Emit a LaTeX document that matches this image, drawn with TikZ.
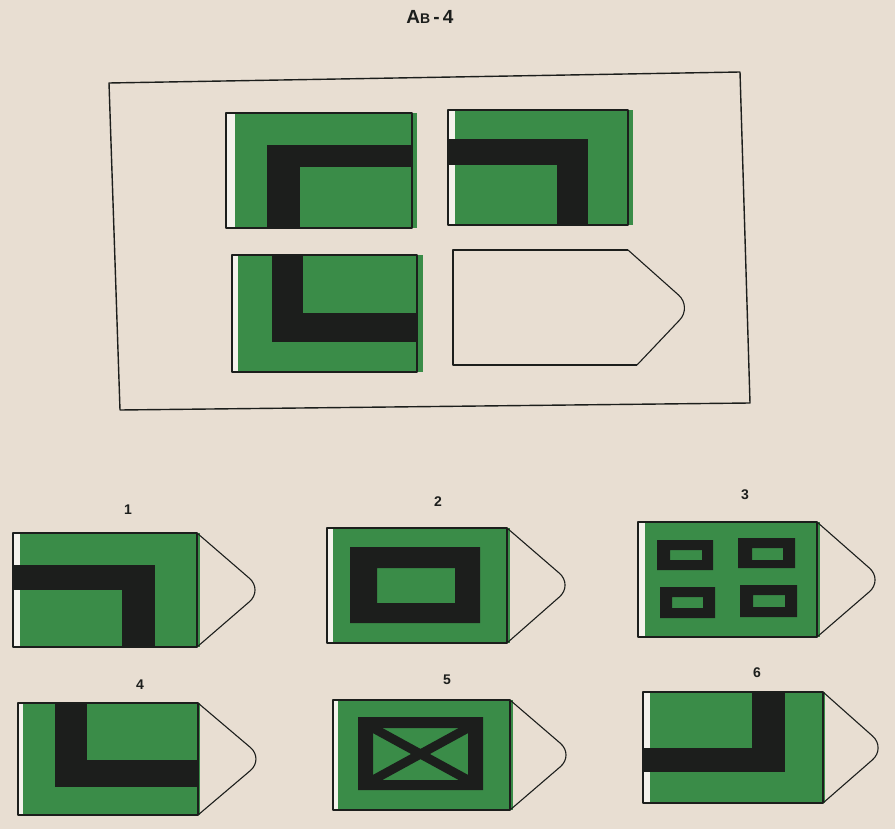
\documentclass[tikz,border=0pt]{standalone}
\usepackage{fontspec}
\setmainfont{Liberation Sans}
\definecolor{paper}{RGB}{232,222,210}
\definecolor{tgreen}{RGB}{58,140,72}
\definecolor{tblack}{RGB}{28,30,28}
\definecolor{strip}{RGB}{244,242,236}
\newcommand\mytile[6]{%
  \fill[strip] (#1,#2) rectangle (#3,#4);
  \fill[tgreen] (#5,#2) rectangle (#6,#4);}
\begin{document}
\begin{tikzpicture}[x=1pt,y=-1pt,
  outl/.style={draw=tblack,line width=1.3pt,line join=round},
  blk/.style={fill=tblack},
  tipline/.style={draw=tblack,line width=1.1pt,rounded corners=18pt},
  lbl/.style={font=\fontsize{14}{16}\selectfont\bfseries,text=tblack}]
\fill[paper] (0,0) rectangle (895,829);
\useasboundingbox (0,0) rectangle (895,829);

% title
\node[font=\fontsize{19}{22}\selectfont\bfseries,text=tblack] (title) at (430,17) {A{\fontsize{14}{16}\selectfont B}\,-\,4};

% frame
\draw[outl,line width=1.4pt] (109,83) -- (740,72) -- (750,403) -- (120,410) -- cycle;

% top-left tile
\mytile{226}{113}{412}{228}{235}{417}
\fill[blk] (267,145) rectangle (300,228);
\fill[blk] (267,145) rectangle (412,167);
\draw[outl] (226,113) rectangle (412,228);

% top-right tile
\mytile{448}{110}{628}{225}{455}{633}
\fill[blk] (448,139) rectangle (588,165);
\fill[blk] (557,139) rectangle (588,225);
\draw[outl] (448,110) rectangle (628,225);

% bottom-left tile
\mytile{232}{255}{417}{372}{238}{423}
\fill[blk] (272,255) rectangle (303,342);
\fill[blk] (272,313) rectangle (417,342);
\draw[outl] (232,255) rectangle (417,372);

% blank tile
\draw[outl] (628,250) -- (453,250) -- (453,365) -- (637,365);
\draw[tipline] (628,250) -- (692,307) -- (637,365);

% option 1
\node[lbl] (l1) at (128,510) {1};
\mytile{13}{533}{197}{647}{20}{200}
\fill[blk] (13,565) rectangle (155,590);
\fill[blk] (122,565) rectangle (155,647);
\draw[outl] (13,533) rectangle (197,647);
\draw[tipline] (197,533) -- (263,590) -- (197,647);

% option 2
\node[lbl] (l2) at (438,502) {2};
\mytile{327}{528}{507}{643}{333}{510}
\fill[blk,even odd rule] (350,547) rectangle (480,623) (377,568) rectangle (455,603);
\draw[outl] (327,528) rectangle (507,643);
\draw[tipline] (507,528) -- (573,585) -- (507,643);

% option 3
\node[lbl] (l3) at (745,495) {3};
\mytile{638}{522}{817}{637}{645}{820}
\fill[blk,even odd rule] (657,540) rectangle (713,570) (670,550) rectangle (702,560);
\fill[blk,even odd rule] (738,538) rectangle (795,568) (752,548) rectangle (783,560);
\fill[blk,even odd rule] (660,587) rectangle (715,618) (672,597) rectangle (703,608);
\fill[blk,even odd rule] (740,585) rectangle (797,617) (753,595) rectangle (785,607);
\draw[outl] (638,522) rectangle (817,637);
\draw[tipline] (817,522) -- (883,580) -- (817,637);

% option 4
\node[lbl] (l4) at (140,685) {4};
\mytile{18}{703}{198}{815}{23}{200}
\fill[blk] (55,703) rectangle (87,787);
\fill[blk] (55,760) rectangle (198,787);
\draw[outl] (18,703) rectangle (198,815);
\draw[tipline] (198,703) -- (264,759) -- (198,815);

% option 5
\node[lbl] (l5) at (447,680) {5};
\mytile{333}{700}{510}{810}{338}{513}
\fill[blk,even odd rule] (358,717) rectangle (483,790) (373,728) rectangle (468,780);
\begin{scope}
  \clip (373,728) rectangle (468,780);
  \draw[tblack,line width=9pt] (373,728) -- (468,780);
  \draw[tblack,line width=9pt] (468,728) -- (373,780);
\end{scope}
\draw[outl] (333,700) rectangle (510,810);
\draw[tipline] (510,700) -- (574,755) -- (510,810);

% option 6
\node[lbl] (l6) at (757,673) {6};
\mytile{643}{692}{823}{803}{650}{825}
\fill[blk] (752,692) rectangle (785,772);
\fill[blk] (643,748) rectangle (785,772);
\draw[outl] (643,692) rectangle (823,803);
\draw[tipline] (823,692) -- (886,748) -- (823,803);
\end{tikzpicture}
\end{document}
